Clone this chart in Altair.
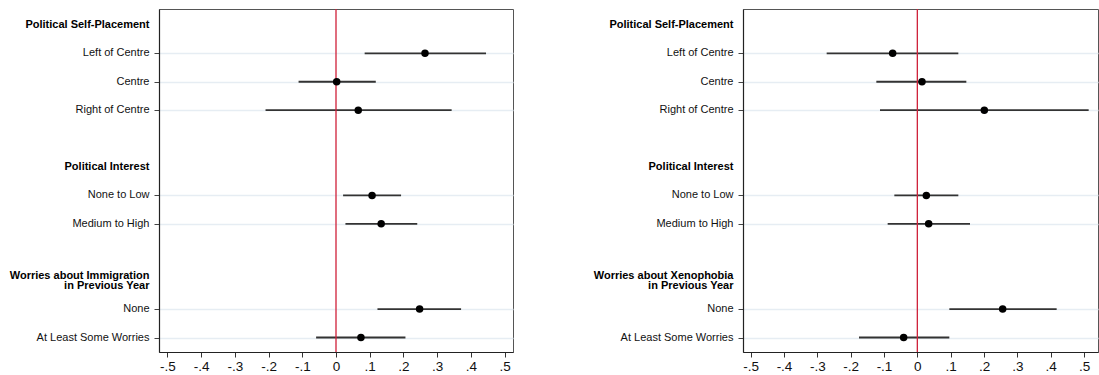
import altair as alt
import pandas as pd

# Row layout: headers and item rows (row 0 at the top)
item_labels = ["Left of Centre", "Centre", "Right of Centre",
               "None to Low", "Medium to High",
               "None", "At Least Some Worries"]
item_rows = [1, 2, 3, 6, 7, 10, 11]
header_rows = [0, 5, 9]

imm_headers = ["Political Self-Placement", "Political Interest",
               "Worries about Immigration\nin Previous Year"]
xen_headers = ["Political Self-Placement", "Political Interest",
               "Worries about Xenophobia\nin Previous Year"]

# Point estimates and 95% confidence bounds
imm_coef = [0.264, 0.002, 0.066, 0.107, 0.134, 0.248, 0.074]
imm_lo = [0.085, -0.111, -0.209, 0.021, 0.028, 0.123, -0.059]
imm_hi = [0.445, 0.118, 0.343, 0.193, 0.241, 0.371, 0.206]

xen_coef = [-0.074, 0.014, 0.201, 0.027, 0.034, 0.256, -0.041]
xen_lo = [-0.272, -0.123, -0.112, -0.069, -0.089, 0.096, -0.175]
xen_hi = [0.123, 0.147, 0.514, 0.123, 0.158, 0.418, 0.096]

x_ticks = [-0.5, -0.4, -0.3, -0.2, -0.1, 0.0, 0.1, 0.2, 0.3, 0.4, 0.5]

FONT = "Liberation Sans"
PANEL_H = 343
ROW_DOMAIN = [-0.56, 11.51]

tick_label_expr = (
    "datum.value == 0 ? '0' : "
    "(datum.value < 0 ? '-' : '') + replace(format(abs(datum.value), '.1f'), '0.', '.')"
)


def panel(coef, lo, hi, headers, x_domain, width, anchor=False):
    items = pd.DataFrame({"row": item_rows, "label": item_labels,
                          "coef": coef, "lo": lo, "hi": hi})
    heads = pd.DataFrame({"row": header_rows, "label": headers})
    heads["lines"] = heads["label"].str.count("\n") + 1
    single = heads[heads["lines"] == 1]
    multi = heads[heads["lines"] > 1]

    x_scale = alt.Scale(domain=x_domain, nice=False, zero=False)
    y_scale = alt.Scale(domain=ROW_DOMAIN, reverse=True, nice=False, zero=False)

    x_axis = alt.Axis(values=x_ticks, labelExpr=tick_label_expr, title="",
                      grid=False, ticks=True, tickSize=5, tickColor="#333",
                      domain=True, domainColor="#222", domainWidth=1.2,
                      labelFontSize=13.5, labelPadding=2,
                      labelColor="#111", labelFont=FONT)
    y_axis = alt.Axis(values=item_rows, labels=False, title="",
                      ticks=True, tickSize=5, tickColor="#444",
                      grid=True, gridColor="#e6edf3", gridWidth=1.5,
                      domain=True, domainColor="#222", domainWidth=1.2)

    def y_enc():
        return alt.Y("row:Q", scale=y_scale, axis=y_axis)

    ci = alt.Chart(items).mark_rule(color="#333333", strokeWidth=1.8).encode(
        x=alt.X("lo:Q", scale=x_scale, axis=x_axis),
        x2="hi:Q",
        y=y_enc(),
    )

    zero = alt.Chart(pd.DataFrame({"z": [0.0]})).mark_rule(
        color="#cf2039", strokeWidth=1.3
    ).encode(x=alt.X("z:Q", scale=x_scale, axis=x_axis))

    pts = alt.Chart(items).mark_circle(size=56, color="#000000", opacity=1).encode(
        x=alt.X("coef:Q", scale=x_scale, axis=x_axis),
        y=y_enc(),
    )

    item_text = alt.Chart(items).mark_text(
        align="right", baseline="middle", font=FONT, fontSize=11, color="#111"
    ).encode(x=alt.value(-9.5), y=y_enc(), text="label:N")

    head_text = alt.Chart(single).mark_text(
        align="right", baseline="middle", font=FONT, fontSize=11,
        fontWeight="bold", color="#000"
    ).encode(x=alt.value(-9.5), y=y_enc(), text="label:N")

    # two-line headers: shift up half a line so the block is centred on its row
    head_text2 = alt.Chart(multi).mark_text(
        align="right", baseline="middle", font=FONT, fontSize=11,
        fontWeight="bold", color="#000", lineBreak="\n", lineHeight=10.5, dy=-5
    ).encode(x=alt.value(-9.5), y=y_enc(), text="label:N")

    layers = [ci, zero, pts, item_text, head_text, head_text2]
    if anchor:
        edge = alt.Chart(pd.DataFrame({"a": [0]})).mark_rule(strokeOpacity=0).encode(
            x=alt.value(-153), y=alt.value(0), y2=alt.value(PANEL_H)
        )
        layers.append(edge)

    return alt.layer(*layers).properties(width=width, height=PANEL_H)


left = panel(imm_coef, imm_lo, imm_hi, imm_headers, [-0.525, 0.525], 354, anchor=True)
right = panel(xen_coef, xen_lo, xen_hi, xen_headers, [-0.523, 0.542], 355)

chart = alt.hconcat(left, right, spacing=230, bounds="flush").properties(
    padding={"left": 5, "top": 7, "right": 0, "bottom": 0},
    background="white",
).configure_view(stroke="#555555", strokeWidth=1)

chart.save("out.html", embed_options={"renderer": "svg", "actions": False})
